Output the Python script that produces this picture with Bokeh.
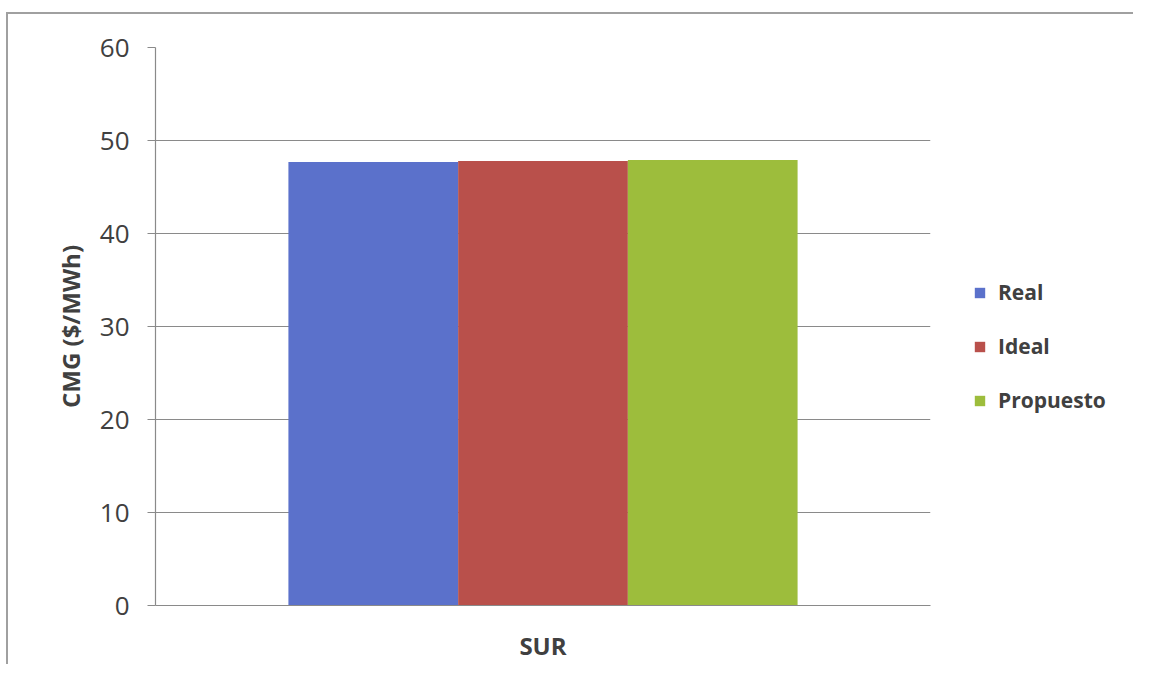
from bokeh.plotting import figure
from bokeh.models import ColumnDataSource, FactorRange, Legend, LegendItem
from bokeh.transform import dodge
from bokeh.embed import file_html
from bokeh.resources import INLINE

categories = ["SUR"]
series = ["Real", "Ideal", "Propuesto"]
real = [47.7]
ideal = [47.8]
propuesto = [47.9]
colors = ["#5B71CB", "#B9504B", "#9DBD3C"]
y_ticks = [0, 10, 20, 30, 40, 50, 60]

source = ColumnDataSource(data=dict(cat=categories, Real=real, Ideal=ideal, Propuesto=propuesto))

p = figure(x_range=FactorRange(*categories), y_range=(0, 60), frame_width=775, frame_height=558,
           output_backend="svg", toolbar_location=None,
           min_border_left=155, min_border_right=0, min_border_top=47, min_border_bottom=54)

bw = 0.219
offsets = [-bw, 0.0, bw]
renderers = []
for s, off, c in zip(series, offsets, colors):
    r = p.vbar(x=dodge("cat", off, range=p.x_range), top=s, width=bw, source=source,
               fill_color=c, line_color=None)
    renderers.append(r)

p.outline_line_color = None
p.xgrid.grid_line_color = None
p.ygrid.grid_line_color = "#8a8a8a"
p.ygrid.grid_line_width = 1.2
p.yaxis.ticker = y_ticks
p.border_fill_alpha = 0
p.background_fill_color = "white"
p.styles = {
    "background": "linear-gradient(#a0a0a0,#a0a0a0) 6px 12px / 1127px 2px no-repeat, "
                  "linear-gradient(#a0a0a0,#a0a0a0) 6px 12px / 2px 660px no-repeat, white"
}

for ax in (p.xaxis[0], p.yaxis[0]):
    ax.axis_line_color = "#8a8a8a"
    ax.axis_line_width = 1.2
    ax.major_label_text_font = "Open Sans"
    ax.major_label_text_color = "#404040"

p.yaxis.major_tick_line_color = "#8a8a8a"
p.yaxis.major_tick_out = 8
p.yaxis.major_tick_in = 0
p.yaxis.minor_tick_line_color = None
p.yaxis.major_label_text_font_size = "26px"
p.yaxis.major_label_standoff = 18
p.yaxis.axis_label = "CMG ($/MWh)"
p.yaxis.axis_label_text_font = "Open Sans"
p.yaxis.axis_label_text_font_style = "bold"
p.yaxis.axis_label_text_font_size = "24px"
p.yaxis.axis_label_text_color = "#404040"
p.yaxis.axis_label_standoff = 10

p.xaxis.major_tick_line_color = None
p.xaxis.major_label_text_font_size = "24px"
p.xaxis.major_label_text_font_style = "bold"
p.xaxis.major_label_standoff = 17

legend = Legend(items=[LegendItem(label=s, renderers=[r]) for s, r in zip(series, renderers)],
                location=(43, 191), border_line_color=None, background_fill_alpha=0,
                padding=0, margin=0,
                glyph_width=13, glyph_height=13, label_height=20, spacing=26,
                label_text_font="Open Sans", label_text_font_size="21px",
                label_text_color="#404040", label_text_font_style="bold", label_standoff=12)
p.add_layout(legend, "right")

open("out.html", "w").write(file_html(p, INLINE))
